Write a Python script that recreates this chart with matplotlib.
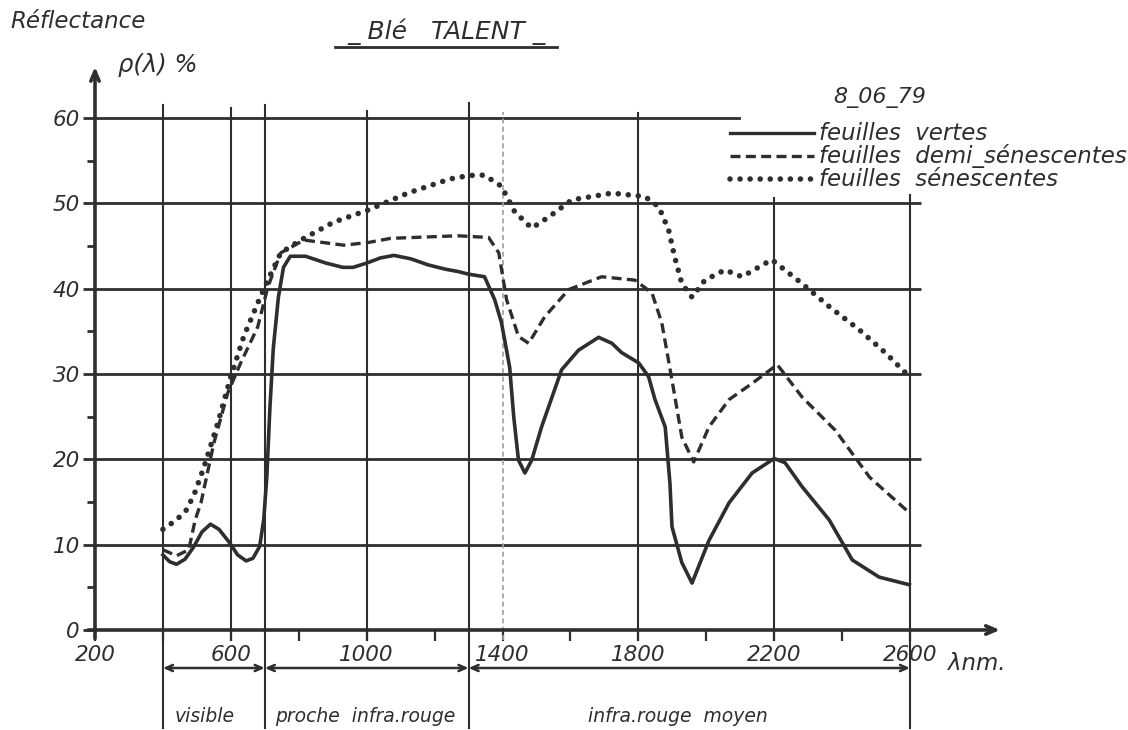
import matplotlib
matplotlib.use("Agg")
import matplotlib.pyplot as plt

# courbes (lambda en nm, reflectance en %)
wl_vertes = [400, 420, 440, 465, 490, 515, 540, 565, 595, 620, 645, 665, 685, 697, 706,
             715, 725, 740, 755, 775, 820, 880, 930, 960, 1000, 1040, 1080, 1130, 1180,
             1230, 1270, 1300, 1347, 1377, 1397, 1421, 1433, 1447, 1466, 1486, 1515,
             1574, 1624, 1683, 1722, 1751, 1801, 1830, 1849, 1879, 1893, 1899, 1928,
             1958, 2008, 2067, 2135, 2200, 2232, 2282, 2362, 2430, 2509, 2598]
r_vertes = [8.8, 8.0, 7.7, 8.3, 9.7, 11.5, 12.4, 11.8, 10.3, 8.8, 8.1, 8.4, 9.8, 13, 18,
            26, 33, 39, 42.5, 43.8, 43.8, 43.0, 42.5, 42.5, 43.0, 43.6, 43.9, 43.5, 42.8,
            42.3, 42.0, 41.7, 41.4, 38.7, 36.0, 30.8, 25.0, 19.9, 18.4, 19.9, 23.8,
            30.5, 32.8, 34.3, 33.6, 32.5, 31.3, 29.7, 27.0, 23.8, 17.2, 12.1, 7.9,
            5.5, 10.5, 14.9, 18.4, 20.1, 19.6, 16.8, 12.9, 8.2, 6.2, 5.3]

wl_demi = [400, 440, 476, 495, 512, 550, 591, 629, 679, 709, 747, 815, 932, 1003, 1071,
           1268, 1359, 1389, 1412, 1447, 1477, 1524, 1595, 1692, 1790, 1840, 1869,
           1899, 1928, 1963, 2008, 2067, 2135, 2209, 2282, 2380, 2481, 2599]
r_demi = [9.4, 8.7, 9.4, 12.9, 14.9, 21.9, 27.8, 31.3, 35.5, 40.2, 44.2, 45.7, 45.1, 45.4, 45.9,
          46.2, 46.0, 44.2, 38.7, 34.4, 33.6, 36.7, 39.9, 41.4, 41.0, 39.5, 36.0,
          29.3, 22.6, 19.7, 23.8, 27.0, 28.9, 31.1, 27.3, 23.4, 17.9, 13.7]

wl_sen = [400, 440, 470, 493, 521, 562, 600, 638, 679, 709, 747, 806, 903, 1003, 1121,
          1218, 1260, 1315, 1347, 1397, 1436, 1486, 1536, 1604, 1722, 1819, 1860, 1889,
          1907, 1928, 1958, 1996, 2055, 2105, 2193, 2282, 2362, 2450, 2527, 2598]
r_sen = [11.8, 12.9, 14.1, 16.0, 19.1, 24.3, 29.7, 34.4, 38.3, 41.0, 44.2, 45.7, 47.8, 49.2, 51.2,
         52.5, 53.0, 53.3, 53.3, 52.0, 49.0, 47.1, 48.4, 50.4, 51.2, 50.8, 49.6, 46.9,
         43.7, 40.6, 39.0, 41.0, 42.2, 41.4, 43.4, 40.6, 37.9, 35.2, 32.5, 29.7]

y_ticks = [0, 10, 20, 30, 40, 50, 60]
x_ticks = [200, 600, 1000, 1400, 1800, 2200, 2600]
x_minor = [400, 800, 1200, 1600, 2000, 2400]
grid_x = [400, 600, 700, 1000, 1300, 1800, 2200, 2600]
grid_top = [61.5, 61.2, 61.5, 60.8, 61.8, 60.6, 50.6, 51.0]
grid_bot = [-11.5, -1.2, -11.5, -1.2, -11.5, -1.2, -1.2, -11.5]
bornes = [400, 700, 1300, 2600]
domaines = ["visible", "proche  infra.rouge", "infra.rouge  moyen"]
domaines_x = [524, 995, 1917]
legendes = ["feuilles  vertes", "feuilles  demi_sénescentes", "feuilles  sénescentes"]

INK = "#2e2e2e"
W, H = 1128, 730

fig = plt.figure(figsize=(W / 100, H / 100), dpi=100)
x0, x1 = 95, 1000
y0, y1 = 630, 65
ax = fig.add_axes([x0 / W, (H - y0) / H, (x1 - x0) / W, (y0 - y1) / H])
ax.set_xlim(200, 200 + (x1 - x0) / 0.3396)
ax.set_ylim(0, (y0 - y1) / 8.533)
for s in ax.spines.values():
    s.set_visible(False)

font = dict(style="italic", color=INK, family="DejaVu Sans")

# quadrillage
for v in y_ticks[1:-1]:
    ax.plot([200, 2632], [v, v], color=INK, lw=2, solid_capstyle="butt", clip_on=False)
ax.plot([200, 2095], [60, 60], color=INK, lw=2, clip_on=False)
for gx, t, b in zip(grid_x, grid_top, grid_bot):
    ax.plot([gx, gx], [b, t], color=INK, lw=1.5, clip_on=False)
ax.plot([1400, 1400], [-1.2, 60.7], color="#a0a0a0", lw=1.2, ls=(0, (3, 2)), clip_on=False)

# axes avec fleches
ax.annotate("", xy=(200, 66.0), xytext=(200, -1.0), annotation_clip=False,
            arrowprops=dict(arrowstyle="->,head_length=0.7,head_width=0.3", lw=2.6,
                            color=INK, shrinkA=0, shrinkB=0))
ax.annotate("", xy=(2865, 0), xytext=(180, 0), annotation_clip=False,
            arrowprops=dict(arrowstyle="->,head_length=0.7,head_width=0.3", lw=2.6,
                            color=INK, shrinkA=0, shrinkB=0))

ax.set_yticks(y_ticks)
ax.set_yticks([5, 15, 25, 35, 45, 55], minor=True)
ax.set_xticks(x_ticks)
ax.set_xticks(x_minor, minor=True)
ax.tick_params(axis="y", which="major", length=9, width=2, color=INK, pad=2)
ax.tick_params(axis="y", which="minor", length=6, width=2, color=INK)
ax.tick_params(axis="x", which="both", length=8, width=1.6, color=INK, pad=3)
ax.set_yticklabels([str(v) for v in y_ticks], fontsize=15.5, **font)
ax.set_xticklabels([str(v) for v in x_ticks], fontsize=15.5, **font)

# courbes
ax.plot(wl_vertes, r_vertes, color=INK, lw=2.6, solid_joinstyle="round", clip_on=False)
ax.plot(wl_demi, r_demi, color=INK, lw=2.4, ls=(0, (3, 1.6)), clip_on=False)
ax.plot(wl_sen, r_sen, color=INK, lw=4.0, ls=(0, (0.01, 1.8)), dash_capstyle="round",
        clip_on=False)

# legende
styles = [dict(lw=2.4), dict(lw=2.4, ls=(0, (3, 1.6))),
          dict(lw=4.0, ls=(0, (0.01, 1.8)), dash_capstyle="round")]
leg_y = [133, 156, 179]
for lab, st, py in zip(legendes, styles, leg_y):
    yv = (y0 - py) / 8.533
    ax.plot([2070, 2318], [yv, yv], color=INK, clip_on=False, **st)
    ax.text(2332, yv, lab, fontsize=16.5, va="center", ha="left", **font)
ax.text(2512, (y0 - 97) / 8.533, "8_06_79", fontsize=16, ha="center", va="center", **font)

# domaines spectraux
ya = (y0 - 668) / 8.533
for a, b in zip(bornes[:-1], bornes[1:]):
    ax.annotate("", xy=(b, ya), xytext=(a, ya), annotation_clip=False,
                arrowprops=dict(arrowstyle="<->,head_length=0.5,head_width=0.22",
                                lw=1.8, color=INK, shrinkA=0, shrinkB=0))
for lab, xl in zip(domaines, domaines_x):
    ax.text(xl, (y0 - 717) / 8.533, lab, fontsize=13.5, ha="center", va="center", **font)

ax.text(2797, (y0 - 663) / 8.533, "λnm.", fontsize=16.5, ha="center", va="center", **font)

# titres
fig.text(10 / W, 1 - 22 / H, "Réflectance", fontsize=16.5, ha="left", va="center", **font)
fig.text(118 / W, 1 - 65 / H, "ρ(λ) %", fontsize=17.5, ha="left", va="center", **font)
fig.text(446 / W, 1 - 32 / H, "_ Blé   TALENT _", fontsize=18, ha="center", va="center", **font)
fig.add_artist(plt.Line2D([335 / W, 557 / W], [1 - 47 / H, 1 - 47 / H], color=INK, lw=2))

fig.savefig("out.png", dpi=100, facecolor="white")
